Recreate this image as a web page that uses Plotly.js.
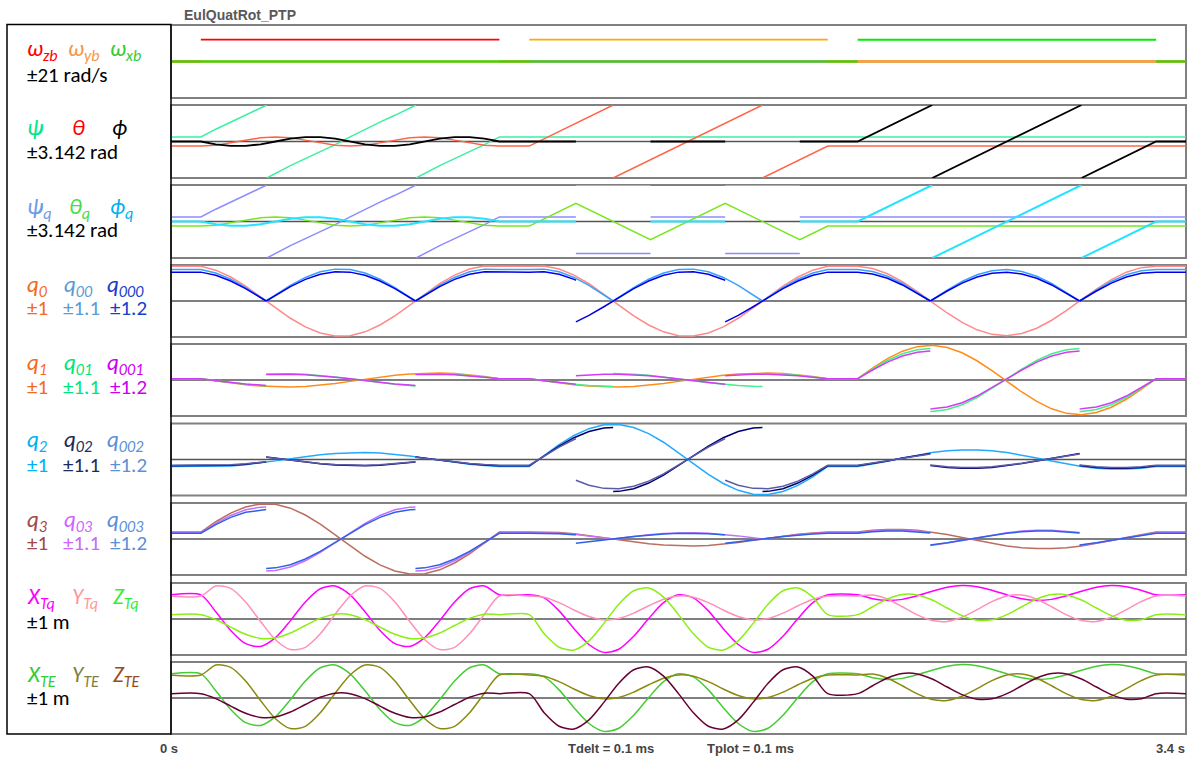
<!DOCTYPE html>
<html><head><meta charset="utf-8">
<script src="https://cdn.plot.ly/plotly-3.0.1.min.js"></script>
<style>html,body{margin:0;padding:0;background:#fff;}#chart{width:1189px;height:760px;}</style>
</head><body><div id="chart"></div>
<script>
// ---------- time grids (s) ----------
const tA = [0.10,0.15,0.20,0.25,0.30,0.35,0.40,0.45,0.50,0.55,0.60,0.65,0.70,0.75,0.80,0.85,0.90,0.95,1.00,1.05,1.10];
const tB = [1.20,1.25,1.30,1.35,1.40,1.45,1.50,1.55,1.60,1.65,1.70,1.75,1.80,1.85,1.90,1.95,2.00,2.05,2.10,2.15,2.20];
const tC = [2.30,2.35,2.40,2.45,2.50,2.55,2.60,2.65,2.70,2.75,2.80,2.85,2.90,2.95,3.00,3.05,3.10,3.15,3.20,3.25,3.30];
const T = [0].concat(tA, tB, tC, [3.4]);
// time grids with sign-flip points
const xA_f = [0.10,0.15,0.20,0.25,0.30,0.3188,0.3188,0.3188,0.35,0.40,0.45,0.50,0.55,0.60,0.65,0.70,0.75,0.80,0.8188,0.8188,0.8188,0.85,0.90,0.95,1.00,1.05,1.10];
const xB_f1 = [1.20,1.25,1.30,1.35,1.40,1.45,1.4812,1.4812,1.4812,1.50,1.55,1.60,1.65,1.70,1.75,1.80,1.85,1.90,1.95,1.9812,1.9812,1.9812,2.00,2.05,2.10,2.15,2.20];
const xB_f2 = [1.20,1.25,1.30,1.35,1.3563,1.3563,1.3563,1.40,1.45,1.50,1.55,1.60,1.65,1.70,1.75,1.80,1.85,1.8563,1.8563,1.8563,1.90,1.95,2.00,2.05,2.10,2.15,2.20];
const xC_f = [2.30,2.35,2.40,2.45,2.50,2.5436,2.5436,2.5436,2.55,2.60,2.65,2.70,2.75,2.80,2.85,2.90,2.95,3.00,3.0436,3.0436,3.0436,3.05,3.10,3.15,3.20,3.25,3.30];
const X1 = [0].concat(xA_f, xB_f1, xC_f, [3.4]);
const X2 = [0].concat(xA_f, xB_f2, xC_f, [3.4]);

// ---------- panel 1: body rates (rad/s) ----------
const wzb_t = [0,0.10,0.10,0.10,1.10,1.10,1.10,3.40];
const wzb   = [0,0,null,12.566,12.566,null,0,0];
const wyb_t = [0,1.20,1.20,1.20,2.20,2.20,2.20,3.40];
const wyb   = [0,0,null,12.566,12.566,null,0,0];
const wxb_t = [0,2.30,2.30,2.30,3.30,3.30,3.30,3.40];
const wxb   = [0,0,null,12.566,12.566,null,0,0];

// ---------- panel 2: Euler angles (rad) ----------
const psi_t = [0,0.10,0.15,0.20,0.25,0.30,0.3209,0.3209,0.3209,0.35,0.40,0.45,0.50,0.55,0.60,0.65,0.70,0.75,0.80,0.8209,0.8209,0.8209,0.85,0.90,0.95,1.00,1.05,1.10,3.40];
const psi   = [0.3927,0.3927,1.0592,1.6716,2.2554,2.8678,3.1416,null,-3.1416,-2.7489,-2.0824,-1.4700,-0.8862,-0.2738,0.3927,1.0592,1.6716,2.2554,2.8678,3.1416,null,-3.1416,-2.7489,-2.0824,-1.4700,-0.8862,-0.2738,0.3927,0.3927];
const thetaA = [-0.3927,-0.3148,-0.1186,0.1186,0.3148,0.3927,0.3148,0.1186,-0.1186,-0.3148,-0.3927,-0.3148,-0.1186,0.1186,0.3148,0.3927,0.3148,0.1186,-0.1186,-0.3148,-0.3927];
const theta_t = [0].concat(tA, [1.20,1.48125,1.48125,1.48125,1.98125,1.98125,1.98125,2.20,3.40]);
const theta   = [-0.3927].concat(thetaA, [-0.3927,3.1416,null,-3.1416,3.1416,null,-3.1416,-0.3927,-0.3927]);
const phiA = [0,-0.2389,-0.3752,-0.3752,-0.2389,0,0.2389,0.3752,0.3752,0.2389,0,-0.2389,-0.3752,-0.3752,-0.2389,0,0.2389,0.3752,0.3752,0.2389,0];
const phi_t = [0].concat(tA, [1.35625,1.35625,1.60625,1.85625,1.85625,2.10625,2.30,2.55,2.55,2.55,3.05,3.05,3.05,3.30,3.40]);
const phi   = [0].concat(phiA, [0,null,0,0,null,0,0,3.1416,null,-3.1416,3.1416,null,-3.1416,0,0]);

// ---------- panel 3: Euler angles from quaternion (rad) ----------
const psiq_t = [0,0.10,0.15,0.20,0.25,0.30,0.3209,0.3209,0.3209,0.35,0.40,0.45,0.50,0.55,0.60,0.65,0.70,0.75,0.80,0.8209,0.8209,0.8209,0.85,0.90,0.95,1.00,1.05,1.10,1.35625,1.35625,1.35625,1.60625,1.60625,1.60625,1.85625,1.85625,1.85625,2.10625,2.10625,2.10625,3.40];
const psiq   = [0.3927,0.3927,1.0592,1.6716,2.2554,2.8678,3.1416,null,-3.1416,-2.7489,-2.0824,-1.4700,-0.8862,-0.2738,0.3927,1.0592,1.6716,2.2554,2.8678,3.1416,null,-3.1416,-2.7489,-2.0824,-1.4700,-0.8862,-0.2738,0.3927,0.3927,null,-2.7489,-2.7489,null,0.3927,0.3927,null,-2.7489,-2.7489,null,0.3927,0.3927];
const thetaq_t = [0].concat(tA, [1.20,1.35625,1.60625,1.85625,2.10625,2.20,3.40]);
const thetaq   = [-0.3927].concat(thetaA, [-0.3927,1.5708,-1.5708,1.5708,-1.5708,-0.3927,-0.3927]);
const phiq_t = [0].concat(tA, [1.35625,1.35625,1.35625,1.60625,1.60625,1.60625,1.85625,1.85625,1.85625,2.10625,2.10625,2.10625,2.30,2.55,2.55,2.55,3.05,3.05,3.05,3.30,3.40]);
const phiq   = [0].concat(phiA, [0,null,3.1416,3.1416,null,0,0,null,3.1416,3.1416,null,0,0,3.1416,null,-3.1416,3.1416,null,-3.1416,0,0]);

// ---------- panel 4: q0 family ----------
const q0_A = [0.9619,0.8557,0.6658,0.4106,0.1153,-0.1913,-0.4791,-0.7202,-0.8906,-0.9739,-0.9619,-0.8557,-0.6658,-0.4106,-0.1153,0.1913,0.4791,0.7202,0.8906,0.9739,0.9619];
const q0_B = [0.9619,0.9739,0.8906,0.7202,0.4791,0.1913,-0.1153,-0.4106,-0.6658,-0.8557,-0.9619,-0.9739,-0.8906,-0.7202,-0.4791,-0.1913,0.1153,0.4106,0.6658,0.8557,0.9619];
const q0_C = [0.9619,0.9030,0.7558,0.5346,0.2610,-0.0381,-0.3334,-0.5962,-0.8006,-0.9266,-0.9619,-0.9030,-0.7558,-0.5346,-0.2610,0.0381,0.3334,0.5962,0.8006,0.9266,0.9619];
const q00_A = [0.9619,0.8557,0.6658,0.4106,0.1153,0,null,0,0.1913,0.4791,0.7202,0.8906,0.9739,0.9619,0.8557,0.6658,0.4106,0.1153,0,null,0,0.1913,0.4791,0.7202,0.8906,0.9739,0.9619];
const q00_B = [0.9619,0.9739,0.8906,0.7202,0.4791,0.1913,0,null,0,0.1153,0.4106,0.6658,0.8557,0.9619,0.9739,0.8906,0.7202,0.4791,0.1913,0,null,0,0.1153,0.4106,0.6658,0.8557,0.9619];
const q00_C = [0.9619,0.9030,0.7558,0.5346,0.2610,0,null,0,0.0381,0.3334,0.5962,0.8006,0.9266,0.9619,0.9030,0.7558,0.5346,0.2610,0,null,0,0.0381,0.3334,0.5962,0.8006,0.9266,0.9619];
const q000_B = [0.9619,0.9739,0.8906,0.7202,0.6935,null,-0.6935,-0.4791,-0.1913,0.1153,0.4106,0.6658,0.8557,0.9619,0.9739,0.8906,0.7202,0.6935,null,-0.6935,-0.4791,-0.1913,0.1153,0.4106,0.6658,0.8557,0.9619];

// ---------- panel 5: q1 family ----------
const q1_A = [0.0381,-0.0229,-0.0816,-0.1324,-0.1701,-0.1913,-0.1937,-0.1772,-0.1432,-0.0953,-0.0381,0.0229,0.0816,0.1324,0.1701,0.1913,0.1937,0.1772,0.1432,0.0953,0.0381];
const q1_B = [0.0381,-0.0229,-0.0816,-0.1324,-0.1701,-0.1913,-0.1937,-0.1772,-0.1432,-0.0953,-0.0381,0.0229,0.0816,0.1324,0.1701,0.1913,0.1937,0.1772,0.1432,0.0953,0.0381];
const q1_C = [0.0381,0.3334,0.5962,0.8006,0.9266,0.9619,0.9030,0.7558,0.5346,0.2610,-0.0381,-0.3334,-0.5962,-0.8006,-0.9266,-0.9619,-0.9030,-0.7558,-0.5346,-0.2610,0.0381];
const q01_A = [0.0381,-0.0229,-0.0816,-0.1324,-0.1701,-0.1802,null,0.1802,0.1913,0.1937,0.1772,0.1432,0.0953,0.0381,-0.0229,-0.0816,-0.1324,-0.1701,-0.1802,null,0.1802,0.1913,0.1937,0.1772,0.1432,0.0953,0.0381];
const q01_B = [0.0381,-0.0229,-0.0816,-0.1324,-0.1701,-0.1913,-0.1950,null,0.1950,0.1937,0.1772,0.1432,0.0953,0.0381,-0.0229,-0.0816,-0.1324,-0.1701,-0.1913,-0.1950,null,0.1950,0.1937,0.1772,0.1432,0.0953,0.0381];
const q01_C = [0.0381,0.3334,0.5962,0.8006,0.9266,0.9626,null,-0.9626,-0.9619,-0.9030,-0.7558,-0.5346,-0.2610,0.0381,0.3334,0.5962,0.8006,0.9266,0.9626,null,-0.9626,-0.9619,-0.9030,-0.7558,-0.5346,-0.2610,0.0381];
const q001_B = [0.0381,-0.0229,-0.0816,-0.1324,-0.1379,null,0.1379,0.1701,0.1913,0.1937,0.1772,0.1432,0.0953,0.0381,-0.0229,-0.0816,-0.1324,-0.1379,null,0.1379,0.1701,0.1913,0.1937,0.1772,0.1432,0.0953,0.0381];

// ---------- panel 6: q2 family ----------
const q2_A = [-0.1913,-0.1937,-0.1772,-0.1432,-0.0953,-0.0381,0.0229,0.0816,0.1324,0.1701,0.1913,0.1937,0.1772,0.1432,0.0953,0.0381,-0.0229,-0.0816,-0.1324,-0.1701,-0.1913];
const q2_B = [-0.1913,0.1153,0.4106,0.6658,0.8557,0.9619,0.9739,0.8906,0.7202,0.4791,0.1913,-0.1153,-0.4106,-0.6658,-0.8557,-0.9619,-0.9739,-0.8906,-0.7202,-0.4791,-0.1913];
const q2_C = [-0.1913,-0.1228,-0.0424,0.0424,0.1228,0.1913,0.2410,0.2672,0.2672,0.2410,0.1913,0.1228,0.0424,-0.0424,-0.1228,-0.1913,-0.2410,-0.2672,-0.2672,-0.2410,-0.1913];
const q02_A = [-0.1913,-0.1937,-0.1772,-0.1432,-0.0953,-0.0746,null,0.0746,0.0381,-0.0229,-0.0816,-0.1324,-0.1701,-0.1913,-0.1937,-0.1772,-0.1432,-0.0953,-0.0746,null,0.0746,0.0381,-0.0229,-0.0816,-0.1324,-0.1701,-0.1913];
const q02_B = [-0.1913,0.1153,0.4106,0.6658,0.8557,0.9619,0.9808,null,-0.9808,-0.9739,-0.8906,-0.7202,-0.4791,-0.1913,0.1153,0.4106,0.6658,0.8557,0.9619,0.9808,null,-0.9808,-0.9739,-0.8906,-0.7202,-0.4791,-0.1913];
const q02_C = [-0.1913,-0.1228,-0.0424,0.0424,0.1228,0.1835,null,-0.1835,-0.1913,-0.2410,-0.2672,-0.2672,-0.2410,-0.1913,-0.1228,-0.0424,0.0424,0.1228,0.1835,null,-0.1835,-0.1913,-0.2410,-0.2672,-0.2672,-0.2410,-0.1913];
const q002_B = [-0.1913,0.1153,0.4106,0.6658,0.6935,null,-0.6935,-0.8557,-0.9619,-0.9739,-0.8906,-0.7202,-0.4791,-0.1913,0.1153,0.4106,0.6658,0.6935,null,-0.6935,-0.8557,-0.9619,-0.9739,-0.8906,-0.7202,-0.4791,-0.1913];

// ---------- panel 7: q3 family ----------
const q3_A = [0.1913,0.4791,0.7202,0.8906,0.9739,0.9619,0.8557,0.6658,0.4106,0.1153,-0.1913,-0.4791,-0.7202,-0.8906,-0.9739,-0.9619,-0.8557,-0.6658,-0.4106,-0.1153,0.1913];
const q3_B = [0.1913,0.1937,0.1772,0.1432,0.0953,0.0381,-0.0229,-0.0816,-0.1324,-0.1701,-0.1913,-0.1937,-0.1772,-0.1432,-0.0953,-0.0381,0.0229,0.0816,0.1324,0.1701,0.1913];
const q3_C = [0.1913,0.2410,0.2672,0.2672,0.2410,0.1913,0.1228,0.0424,-0.0424,-0.1228,-0.1913,-0.2410,-0.2672,-0.2672,-0.2410,-0.1913,-0.1228,-0.0424,0.0424,0.1228,0.1913];
const q03_A = [0.1913,0.4791,0.7202,0.8906,0.9739,0.9808,null,-0.9808,-0.9619,-0.8557,-0.6658,-0.4106,-0.1153,0.1913,0.4791,0.7202,0.8906,0.9739,0.9808,null,-0.9808,-0.9619,-0.8557,-0.6658,-0.4106,-0.1153,0.1913];
const q03_B = [0.1913,0.1937,0.1772,0.1432,0.0953,0.0381,0,null,0,0.0229,0.0816,0.1324,0.1701,0.1913,0.1937,0.1772,0.1432,0.0953,0.0381,0,null,0,0.0229,0.0816,0.1324,0.1701,0.1913];
const q03_C = [0.1913,0.2410,0.2672,0.2672,0.2410,0.1988,null,-0.1988,-0.1913,-0.1228,-0.0424,0.0424,0.1228,0.1913,0.2410,0.2672,0.2672,0.2410,0.1988,null,-0.1988,-0.1913,-0.1228,-0.0424,0.0424,0.1228,0.1913];
const q003_B = [0.1913,0.1937,0.1772,0.1432,0.1380,null,-0.1380,-0.0953,-0.0381,0.0229,0.0816,0.1324,0.1701,0.1913,0.1937,0.1772,0.1432,0.1380,null,-0.1380,-0.0953,-0.0381,0.0229,0.0816,0.1324,0.1701,0.1913];

// ---------- panel 8: tool point from quaternion (m) ----------
const XTq_A = [0.672,0.201,-0.318,-0.685,-0.761,-0.516,-0.045,0.474,0.841,0.917,0.672,0.201,-0.318,-0.685,-0.761,-0.516,-0.045,0.474,0.841,0.917,0.672];
const XTq_B = [0.671,0.585,0.226,-0.268,-0.709,-0.927,-0.840,-0.481,0.012,0.453,0.671,0.585,0.226,-0.268,-0.709,-0.927,-0.840,-0.481,0.012,0.453,0.671];
const XTq_C = [0.671,0.562,0.514,0.545,0.644,0.772,0.881,0.929,0.898,0.800,0.671,0.562,0.514,0.545,0.644,0.772,0.881,0.929,0.898,0.800,0.671];
const YTq_A = [0.640,0.914,0.851,0.475,-0.070,-0.576,-0.850,-0.787,-0.411,0.134,0.640,0.914,0.851,0.475,-0.070,-0.576,-0.850,-0.787,-0.411,0.134,0.640];
const YTq_B = [0.640,0.604,0.455,0.250,0.068,-0.023,0.014,0.163,0.367,0.550,0.640,0.604,0.455,0.250,0.068,-0.023,0.014,0.163,0.367,0.550,0.640];
const YTq_C = [0.640,0.665,0.550,0.340,0.114,-0.042,-0.067,0.048,0.258,0.484,0.640,0.665,0.550,0.340,0.114,-0.042,-0.067,0.048,0.258,0.484,0.640];
const ZTq_A = [0.121,-0.016,-0.224,-0.424,-0.539,-0.526,-0.389,-0.181,0.019,0.135,0.121,-0.016,-0.224,-0.424,-0.539,-0.526,-0.389,-0.181,0.019,0.135,0.121];
const ZTq_B = [0.121,-0.410,-0.785,-0.860,-0.606,-0.121,0.410,0.785,0.860,0.606,0.121,-0.410,-0.785,-0.860,-0.606,-0.121,0.410,0.785,0.860,0.606,0.121];
const ZTq_C = [0.121,0.341,0.555,0.680,0.669,0.526,0.306,0.093,-0.032,-0.022,0.121,0.341,0.555,0.680,0.669,0.526,0.306,0.093,-0.032,-0.022,0.121];

// ---------- panel 9: tool point from Euler angles (m) ----------
const XTE_A = [0.672,0.201,-0.318,-0.685,-0.761,-0.516,-0.045,0.474,0.841,0.917,0.672,0.201,-0.318,-0.685,-0.761,-0.516,-0.045,0.474,0.841,0.917,0.672];
const XTE_B = [0.671,0.585,0.226,-0.268,-0.709,-0.927,-0.840,-0.481,0.012,0.453,0.671,0.585,0.226,-0.268,-0.709,-0.927,-0.840,-0.481,0.012,0.453,0.671];
const XTE_C = [0.671,0.562,0.514,0.545,0.644,0.772,0.881,0.929,0.898,0.800,0.671,0.562,0.514,0.545,0.644,0.772,0.881,0.929,0.898,0.800,0.671];
const YTE_A = [0.640,0.914,0.851,0.475,-0.070,-0.576,-0.850,-0.787,-0.411,0.134,0.640,0.914,0.851,0.475,-0.070,-0.576,-0.850,-0.787,-0.411,0.134,0.640];
const YTE_B = [0.640,0.604,0.455,0.250,0.068,-0.023,0.014,0.163,0.367,0.550,0.640,0.604,0.455,0.250,0.068,-0.023,0.014,0.163,0.367,0.550,0.640];
const YTE_C = [0.640,0.665,0.550,0.340,0.114,-0.042,-0.067,0.048,0.258,0.484,0.640,0.665,0.550,0.340,0.114,-0.042,-0.067,0.048,0.258,0.484,0.640];
const ZTE_A = [0.121,-0.016,-0.224,-0.424,-0.539,-0.526,-0.389,-0.181,0.019,0.135,0.121,-0.016,-0.224,-0.424,-0.539,-0.526,-0.389,-0.181,0.019,0.135,0.121];
const ZTE_B = [0.121,-0.410,-0.785,-0.860,-0.606,-0.121,0.410,0.785,0.860,0.606,0.121,-0.410,-0.785,-0.860,-0.606,-0.121,0.410,0.785,0.860,0.606,0.121];
const ZTE_C = [0.121,0.341,0.555,0.680,0.669,0.526,0.306,0.093,-0.032,-0.022,0.121,0.341,0.555,0.680,0.669,0.526,0.306,0.093,-0.032,-0.022,0.121];

// panel ranges (±) as printed in the legend box
const panelRange = [21, 3.142, 3.142, 1, 1, 1, 1, 1, 1];
const overlayRange = [1.1, 1.2];

// ---------- layout geometry ----------
const W = 1189, H = 760, PX0 = 171, PX1 = 1186;
const panelTop = [25,105,185,265,344,423.5,503,583,662];
const panelBot = [98,178,258,337,416,495.5,575,655,734];
const fy = px => 1 - px / H;
const fx = px => px / W;

const layout = {
  width: W, height: H, margin: {l:0, r:0, t:0, b:0},
  paper_bgcolor: '#ffffff', plot_bgcolor: 'rgba(0,0,0,0)', showlegend: false,
  xaxis: {domain: [fx(PX0), fx(PX1)], range: [0, 3.4], visible: false, fixedrange: true},
  shapes: [], annotations: []
};
for (let i = 0; i < 9; i++) {
  const key = i === 0 ? 'yaxis' : 'yaxis' + (i + 1);
  layout[key] = {domain: [fy(panelBot[i]), fy(panelTop[i])], range: [-panelRange[i], panelRange[i]],
                 visible: false, fixedrange: true, anchor: 'x'};
  layout.shapes.push({type:'rect', xref:'paper', yref:'paper', x0:fx(PX0), x1:fx(PX1),
    y0:fy(panelBot[i]), y1:fy(panelTop[i]), line:{color:'#808080', width:2}, layer:'below'});
  const mid = (panelTop[i] + panelBot[i]) / 2;
  layout.shapes.push({type:'line', xref:'paper', yref:'paper', x0:fx(PX0), x1:fx(PX1),
    y0:fy(mid), y1:fy(mid), line:{color:'#555555', width:1.5}, layer:'below'});
}
let ovIdx = 10;
const ovAxis = {};
for (let p = 4; p <= 7; p++) {
  ovAxis[p] = [];
  overlayRange.forEach(r => {
    layout['yaxis' + ovIdx] = {overlaying: 'y' + p, range: [-r, r], visible: false, fixedrange: true, anchor: 'x'};
    ovAxis[p].push('y' + ovIdx);
    ovIdx++;
  });
}
layout.shapes.push({type:'rect', xref:'paper', yref:'paper', x0:fx(7), x1:fx(171), y0:fy(734), y1:fy(24.5),
  line:{color:'#000000', width:1.5}, layer:'above'});

// ---------- traces ----------
const traces = [];
function tr(x, y, yax, color, width, shape) {
  traces.push({type:'scatter', mode:'lines', x:x, y:y, yaxis:yax, xaxis:'x', hoverinfo:'skip',
    connectgaps:false, line:{color:color, width:width || 1.5, shape:shape || 'linear', smoothing:0.8}});
}
// P1
tr(wzb_t, wzb, 'y', '#ff0000', 1.6);
tr(wyb_t, wyb, 'y', '#ffaa00', 1.8);
tr(wxb_t, wxb, 'y', '#00ee00', 2.0);
// P2
tr(psi_t, psi, 'y2', '#3cf0a0', 1.5);
tr(theta_t, theta, 'y2', '#ff6448', 1.5);
tr(phi_t, phi, 'y2', '#000000', 1.8);
// P3
tr(psiq_t, psiq, 'y3', '#8c8cff', 1.5);
tr(thetaq_t, thetaq, 'y3', '#77e61e', 1.5);
tr(phiq_t, phiq, 'y3', '#22e4ff', 2);
// P4
tr(T, [0.9619].concat(q0_A, q0_B, q0_C, [0.9619]), 'y4', '#ff8a8a', 1.5);
tr(X1, [0.9619].concat(q00_A, q00_B, q00_C, [0.9619]), ovAxis[4][0], '#3aa0ff', 1.5);
tr(X2, [0.9619].concat(q00_A, q000_B, q00_C, [0.9619]), ovAxis[4][1], '#0000e6', 1.5);
// P5
tr(T, [0.0381].concat(q1_A, q1_B, q1_C, [0.0381]), 'y5', '#ff8c1a', 1.5);
tr(X1, [0.0381].concat(q01_A, q01_B, q01_C, [0.0381]), ovAxis[5][0], '#44ee88', 1.5);
tr(X2, [0.0381].concat(q01_A, q001_B, q01_C, [0.0381]), ovAxis[5][1], '#d23cf5', 1.5);
// P6
tr(T, [-0.1913].concat(q2_A, q2_B, q2_C, [-0.1913]), 'y6', '#22aaff', 1.5);
tr(X1, [-0.1913].concat(q02_A, q02_B, q02_C, [-0.1913]), ovAxis[6][0], '#00006e', 1.5);
tr(X2, [-0.1913].concat(q02_A, q002_B, q02_C, [-0.1913]), ovAxis[6][1], '#5a5aa8', 1.5);
// P7
tr(T, [0.1913].concat(q3_A, q3_B, q3_C, [0.1913]), 'y7', '#bb6e60', 1.5);
tr(X1, [0.1913].concat(q03_A, q03_B, q03_C, [0.1913]), ovAxis[7][0], '#c470ff', 1.5);
tr(X2, [0.1913].concat(q03_A, q003_B, q03_C, [0.1913]), ovAxis[7][1], '#2f60e8', 1.5);
// P8
tr(T, [0.672].concat(XTq_A, XTq_B, XTq_C, [0.671]), 'y8', '#ff00ff', 1.5, 'spline');
tr(T, [0.640].concat(YTq_A, YTq_B, YTq_C, [0.640]), 'y8', '#ff90bb', 1.5, 'spline');
tr(T, [0.121].concat(ZTq_A, ZTq_B, ZTq_C, [0.121]), 'y8', '#8cee14', 1.5, 'spline');
// P9
tr(T, [0.672].concat(XTE_A, XTE_B, XTE_C, [0.671]), 'y9', '#44cc33', 1.5, 'spline');
tr(T, [0.640].concat(YTE_A, YTE_B, YTE_C, [0.640]), 'y9', '#8a8a10', 1.5, 'spline');
tr(T, [0.121].concat(ZTE_A, ZTE_B, ZTE_C, [0.121]), 'y9', '#660033', 1.5, 'spline');

// ---------- text ----------
const LF = 'Carlito, Liberation Sans, Arial, sans-serif';
function ann(text, xpx, ypx, color, size, xanchor, family) {
  layout.annotations.push({text:text, xref:'paper', yref:'paper', x:fx(xpx), y:fy(ypx),
    xanchor:xanchor || 'left', yanchor:'middle', showarrow:false, borderpad:0,
    font:{family:family || LF, size:size, color:color}});
}
const legendRows = [
  {ly:50, vy:75, labels:[['<i>ω<sub>zb</sub></i>',26,'#ff0000'],['<i>ω<sub>yb</sub></i>',67,'#f79646'],['<i>ω<sub>xb</sub></i>',109,'#33cc33']],
   vals:[['±21 rad/s',26,'#000000']]},
  {ly:127, vy:152, labels:[['<i>ψ</i>',26,'#00e68a'],['<i>θ</i>',71,'#ff0000'],['<i>ϕ</i>',111,'#000000']],
   vals:[['±3.142 rad',26,'#000000']]},
  {ly:207, vy:230, labels:[['<i>ψ<sub>q</sub></i>',26,'#6f9ae8'],['<i>θ<sub>q</sub></i>',68,'#44dd44'],['<i>ϕ<sub>q</sub></i>',109,'#00b0f0']],
   vals:[['±3.142 rad',26,'#000000']]},
  {ly:285, vy:308, labels:[['<i>q<sub>0</sub></i>',26,'#f26b1d'],['<i>q<sub>00</sub></i>',63,'#5b9bd5'],['<i>q<sub>000</sub></i>',106,'#1a3ccc']],
   vals:[['±1',26,'#f26b1d'],['±1.1',62,'#5b9bd5'],['±1.2',109,'#1a3ccc']]},
  {ly:363, vy:387, labels:[['<i>q<sub>1</sub></i>',26,'#f26b1d'],['<i>q<sub>01</sub></i>',63,'#00e676'],['<i>q<sub>001</sub></i>',106,'#cc00ee']],
   vals:[['±1',26,'#f26b1d'],['±1.1',62,'#00e676'],['±1.2',109,'#cc00ee']]},
  {ly:440, vy:465, labels:[['<i>q<sub>2</sub></i>',26,'#00b0f0'],['<i>q<sub>02</sub></i>',63,'#1c2a5a'],['<i>q<sub>002</sub></i>',106,'#5b8fd6']],
   vals:[['±1',26,'#00b0f0'],['±1.1',62,'#1c2a5a'],['±1.2',109,'#5b8fd6']]},
  {ly:520, vy:543, labels:[['<i>q<sub>3</sub></i>',26,'#a04848'],['<i>q<sub>03</sub></i>',63,'#cc66ff'],['<i>q<sub>003</sub></i>',106,'#5b8fd6']],
   vals:[['±1',26,'#a04848'],['±1.1',62,'#cc66ff'],['±1.2',109,'#5b8fd6']]},
  {ly:597, vy:622, labels:[['<i>X<sub>Tq</sub></i>',26,'#ff00ff'],['<i>Y<sub>Tq</sub></i>',71,'#ff9999'],['<i>Z<sub>Tq</sub></i>',112,'#33ee33']],
   vals:[['±1 m',26,'#000000']]},
  {ly:675, vy:698, labels:[['<i>X<sub>TE</sub></i>',26,'#33cc33'],['<i>Y<sub>TE</sub></i>',71,'#808040'],['<i>Z<sub>TE</sub></i>',112,'#994c1a']],
   vals:[['±1 m',26,'#000000']]}
];
legendRows.forEach(r => {
  r.labels.forEach(l => ann(l[0], l[1], r.ly, l[2], 23));
  r.vals.forEach(v => ann(v[0], v[1], r.vy, v[2], 21));
});
const SF = 'Liberation Sans, Arial, sans-serif';
ann('<b>EulQuatRot_PTP</b>', 183, 15, '#595959', 14, 'left', SF);
ann('<b>0 s</b>', 169, 748, '#444444', 13, 'center', SF);
ann('<b>Tdelt = 0.1 ms</b>', 567, 748, '#444444', 13, 'left', SF);
ann('<b>Tplot = 0.1 ms</b>', 706, 748, '#444444', 13, 'left', SF);
ann('<b>3.4 s</b>', 1186, 748, '#444444', 13, 'right', SF);

Plotly.newPlot('chart', traces, layout, {displayModeBar:false, staticPlot:true});
</script>
</body></html>
